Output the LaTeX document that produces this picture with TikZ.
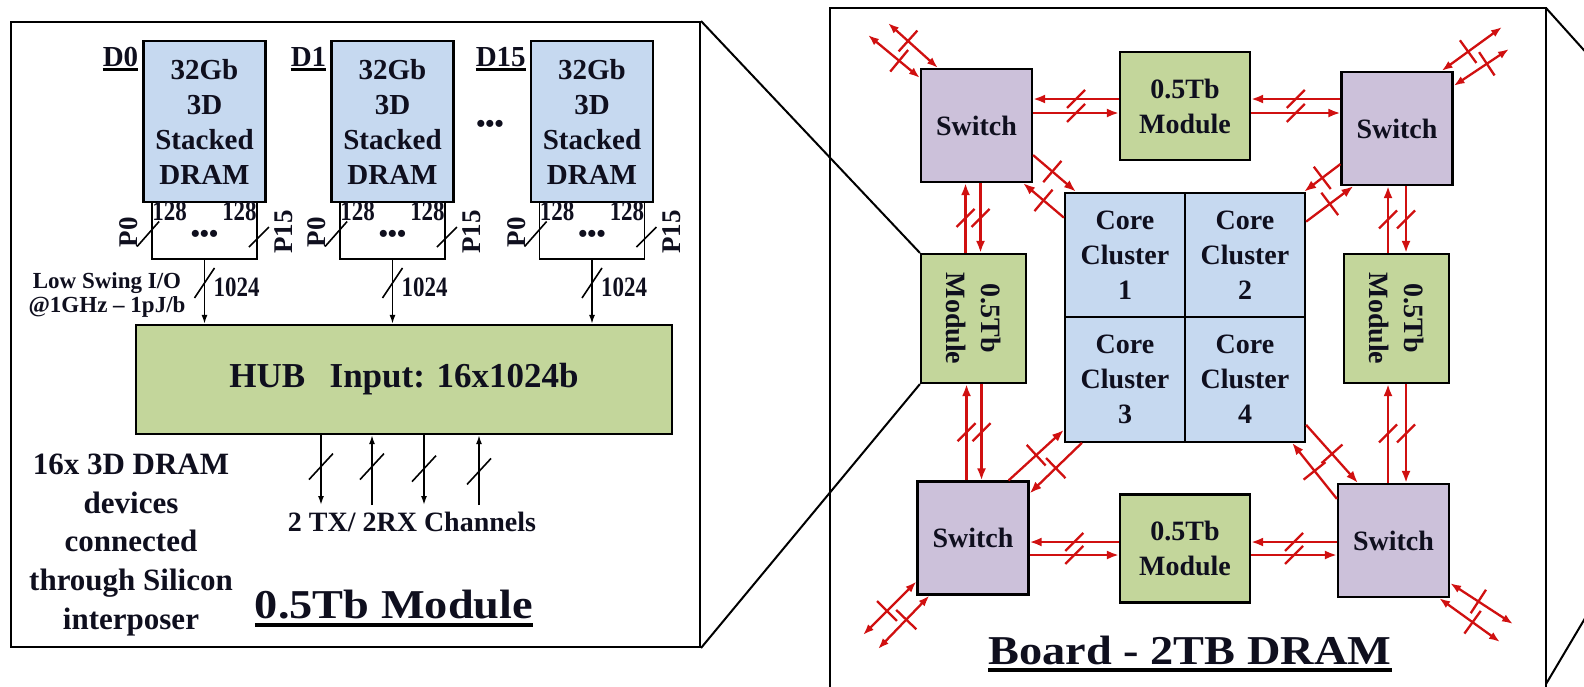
\documentclass[tikz,border=0pt]{standalone}
\usepackage{fontspec}
\setmainfont{Liberation Serif}
\usepackage{graphicx}
\usetikzlibrary{arrows.meta,decorations.markings,calc}
\definecolor{dblue}{RGB}{198,217,240}
\definecolor{mgreen}{RGB}{195,214,155}
\definecolor{spurple}{RGB}{204,193,218}
\definecolor{lred}{RGB}{208,16,16}
\definecolor{ink}{RGB}{15,15,30}
\newcommand{\myfs}[2]{\fontsize{#1}{#2}\selectfont\bfseries}
\tikzset{
  box/.style={draw=black, line width=2.2pt, inner sep=0pt, text=ink, align=center},
  dram/.style={box, fill=dblue, minimum width=122pt, minimum height=161pt, font=\myfs{29}{35}},
  port/.style={box, fill=white, line width=1.8pt, minimum width=105pt, minimum height=57pt},
  dotsl/.style={inner sep=0pt, text=ink, font=\myfs{26}{30}},
  lbl/.style={inner sep=0pt, text=ink, font=\myfs{28}{30}},
  plbl/.style={inner sep=0pt, text=ink, font=\myfs{27}{30}, rotate=90},
  dlab/.style={inner sep=0pt, text=ink, font=\myfs{29}{30}},
  hubbox/.style={box, fill=mgreen, minimum width=536pt, minimum height=109pt, font=\myfs{35}{40}},
  note/.style={inner sep=0pt, text=ink, align=center},
  frame/.style={draw=black, line width=2pt},
  sw/.style={box, fill=spurple, minimum width=111pt, minimum height=113pt, font=\myfs{28}{34}},
  modh/.style={box, fill=mgreen, minimum width=130pt, minimum height=108pt, font=\myfs{28}{35}},
  modv/.style={box, fill=mgreen, minimum width=105pt, minimum height=129pt},
  vtext/.style={inner sep=0pt, text=ink, align=center, font=\myfs{28}{35}, rotate=-90},
  core/.style={box, fill=dblue, minimum width=120pt, minimum height=124.5pt, font=\myfs{28}{35}},
  barrow/.style={draw=black, line width=1.6pt, -{Latex[length=9pt,width=6pt]}},
  bslash/.style n args={3}{postaction={decorate,decoration={markings,mark=at position #1 with {\pgftransformresetnontranslations\draw[black,line width=1.6pt,-] (-#2,-#3) -- (#2,#3);}}}},
  rline/.style={draw=lred, line width=2.3pt},
  rarrow/.style={rline, -{Latex[length=12pt,width=9pt]}},
  rboth/.style={rline, {Latex[length=11pt,width=8pt]}-{Latex[length=11pt,width=8pt]}},
  rslash/.style={postaction={decorate,decoration={markings,mark=at position #1 with {\pgftransformresetnontranslations\draw[lred,line width=2.3pt,-] (-9pt,-9pt) -- (9pt,9pt);}}}},
  rcross/.style={postaction={decorate,decoration={markings,mark=at position #1 with {\draw[lred,line width=2.3pt,-] (0pt,-14pt) -- (0pt,14pt);}}}},
}
\begin{document}
\begin{tikzpicture}[x=1pt,y=-1pt]
\useasboundingbox (0,0) rectangle (1584,686);

% ===== Left panel: 0.5Tb module =====
\node[frame, minimum width=689pt, minimum height=625pt, inner sep=0pt] (lframe) at (355.5,334.5) {};
\node[hubbox] (hub) at (404,379.5) {HUB\hspace{0.7em}Input: 16x1024b};

\foreach \n/\x/\lab in {a/204.5/D0, b/392.5/D1, c/592/D15}{
  \node[port] (port\n) at (\x,230.5) {};
  \node[dram] (dram\n) at (\x,121.5) {32Gb\\3D\\Stacked\\DRAM};
  \node[dotsl] at (\x,236) {•••};
  \node[lbl, anchor=north west] at ([xshift=1pt,yshift=-1pt]port\n.north west) {\scalebox{0.82}[1]{128}};
  \node[lbl, anchor=north east] at ([xshift=-1pt,yshift=-1pt]port\n.north east) {\scalebox{0.82}[1]{128}};
  \node[plbl] at ([xshift=-22pt,yshift=-1.5pt]port\n.west) {P0};
  \node[plbl] at ([xshift=26pt,yshift=-1.5pt]port\n.east) {P15};
  \draw[black,line width=1.6pt] ([shift={(-3pt,-3.5pt)}]port\n.west) +(-11pt,-12.5pt) -- +(11pt,12.5pt);
  \draw[black,line width=1.6pt] ([shift={(1pt,-6.5pt)}]port\n.east) +(-10pt,-10pt) -- +(10pt,10pt);
  \node[dlab, anchor=base east] (dl\n) at ([xshift=-4pt,yshift=-27pt]dram\n.north west) {\lab};
  \draw[line width=2.2pt] ([yshift=-2.5pt]dl\n.base west) -- ([yshift=-2.5pt]dl\n.base east);
  \draw[barrow, bslash={0.36}{10pt}{15pt}] (port\n.south) -- (port\n.south |- hub.north);
  \node[lbl, anchor=west] at (\x+9,287) {\scalebox{0.82}[1]{1024}};
}
\node[dotsl] at (490,126) {•••};

\node[note, font=\myfs{23}{24}] (ls) at (107,295) {Low Swing I/O\\@1GHz – 1pJ/b};

\coordinate (o1) at (321,505);
\coordinate (o2) at (372,505);
\coordinate (o3) at (424,505);
\coordinate (o4) at (479,505);
\draw[barrow, bslash={0.45}{12pt}{13pt}] (o1 |- hub.south) -- (o1);
\draw[barrow, bslash={0.55}{12pt}{13pt}] (o2) -- (o2 |- hub.south);
\draw[barrow, bslash={0.48}{12pt}{13pt}] (o3 |- hub.south) -- (o3);
\draw[barrow, bslash={0.48}{12pt}{13pt}] (o4) -- (o4 |- hub.south);
\node[note, font=\myfs{28}{30}] (chan) at (412,522) {2 TX/ 2RX Channels};

\node[note, font=\myfs{31}{38.8}] (desc) at (131,545) {16x 3D DRAM\\devices\\connected\\through Silicon\\interposer};

\node[inner sep=0pt, text=ink, font=\myfs{41}{44}, anchor=base] (t1) at (394,618) {\scalebox{1.13}[1]{0.5Tb Module}};
\draw[line width=4pt] ([yshift=-7pt]t1.base west) -- ([yshift=-7pt]t1.base east);

% ===== Right panel: board =====
\draw[frame] (830,690) -- (830,8) -- (1546,8) -- (1546,690);
\coordinate (bNE) at (1546,8);
\coordinate (bSE) at (1546,684);
\coordinate (zr1) at (1600,68);
\coordinate (zr2) at (1600,593);
\draw[frame] (bNE) -- (zr1);
\draw[frame] (bSE) -- (zr2);

\node[sw] (swTL) at (976.5,125.5) {Switch};
\node[sw] (swTR) at (1397,128.5) {Switch};
\node[sw] (swBL) at (973,538) {Switch};
\node[sw] (swBR) at (1393.5,540.5) {Switch};
\node[modh] (modT) at (1185,106) {0.5Tb\\Module};
\node[modh] (modB) at (1185,548.5) {0.5Tb\\Module};
\node[modv] (modL) at (973.5,318.5) {};
\node[vtext] at (modL) {0.5Tb\\Module};
\node[modv] (modR) at (1396.5,318.5) {};
\node[vtext] at (modR) {0.5Tb\\Module};
\node[core] (c1) at (1125,255) {Core\\Cluster\\1};
\node[core] (c2) at (1245,255) {Core\\Cluster\\2};
\node[core] (c3) at (1125,379.5) {Core\\Cluster\\3};
\node[core] (c4) at (1245,379.5) {Core\\Cluster\\4};

\draw[frame] (lframe.north east) -- (modL.north west);
\draw[frame] (lframe.south east) -- (modL.south west);

% horizontal links
\coordinate (tU) at ([yshift=7pt]modT.west);
\coordinate (tD) at ([yshift=-7pt]modT.west);
\coordinate (tU2) at ([yshift=7pt]modT.east);
\coordinate (tD2) at ([yshift=-7pt]modT.east);
\draw[rarrow, rslash=0.5] (tU) -- (tU -| swTL.east);
\draw[rarrow, rslash=0.5] (tD -| swTL.east) -- (tD);
\draw[rarrow, rslash=0.5] (tU2 -| swTR.west) -- (tU2);
\draw[rarrow, rslash=0.5] (tD2) -- (tD2 -| swTR.west);
\coordinate (bU) at ([yshift=6.5pt]modB.west);
\coordinate (bD) at ([yshift=-6.5pt]modB.west);
\coordinate (bU2) at ([yshift=6.5pt]modB.east);
\coordinate (bD2) at ([yshift=-6.5pt]modB.east);
\draw[rarrow, rslash=0.5] (bU) -- (bU -| swBL.east);
\draw[rarrow, rslash=0.5] (bD -| swBL.east) -- (bD);
\draw[rarrow, rslash=0.5] (bU2 -| swBR.west) -- (bU2);
\draw[rarrow, rslash=0.5] (bD2) -- (bD2 -| swBR.west);

% vertical links
\coordinate (lL) at ([xshift=-8pt]modL.north);
\coordinate (lR) at ([xshift=7pt]modL.north);
\coordinate (lL2) at ([xshift=-7pt]modL.south);
\coordinate (lR2) at ([xshift=8pt]modL.south);
\draw[rarrow, rslash=0.5] (lL) -- (lL |- swTL.south);
\draw[rarrow, rslash=0.5] (lR |- swTL.south) -- (lR);
\draw[rarrow, rslash=0.5] (lL2 |- swBL.north) -- (lL2);
\draw[rarrow, rslash=0.5] (lR2) -- (lR2 |- swBL.north);
\coordinate (rL) at ([xshift=-8.5pt]modR.north);
\coordinate (rR) at ([xshift=9.5pt]modR.north);
\coordinate (rL2) at ([xshift=-8.5pt]modR.south);
\coordinate (rR2) at ([xshift=9.5pt]modR.south);
\draw[rarrow, rslash=0.5] (rL) -- (rL |- swTR.south);
\draw[rarrow, rslash=0.5] (rR |- swTR.south) -- (rR);
\draw[rarrow, rslash=0.5] (rL2 |- swBR.north) -- (rL2);
\draw[rarrow, rslash=0.5] (rR2) -- (rR2 |- swBR.north);

% diagonal links to core clusters
\draw[rarrow, rcross=0.45] ([yshift=28pt]swTL.south east) -- ([xshift=12pt]c1.north west);
\draw[rarrow, rcross=0.5] ([yshift=-26pt]c1.north west) -- ([xshift=-10pt]swTL.south east);
\draw[rarrow, rcross=0.5] ([yshift=22pt]swTR.south west) -- ([xshift=-2pt]c2.north east);
\draw[rarrow, rcross=0.5] ([yshift=-30pt]c2.north east) -- ([xshift=13pt]swTR.south west);
\draw[rarrow, rcross=0.5] ([xshift=-21pt]swBL.north east) -- ([yshift=13pt]c3.south west);
\draw[rarrow, rcross=0.5] ([xshift=18pt]c3.south west) -- ([yshift=-13pt]swBL.north east);
\draw[rarrow, rcross=0.5] ([yshift=18pt]c4.south east) -- ([xshift=21pt]swBR.north west);
\draw[rarrow, rcross=0.5] ([yshift=-16pt]swBR.north west) -- ([xshift=-14pt]c4.south east);

% external links
\coordinate (e1) at (888,23);
\coordinate (e2) at (868,35);
\coordinate (e3) at (1502,27);
\coordinate (e4) at (1509,49);
\coordinate (e5) at (863,635);
\coordinate (e6) at (878,649);
\coordinate (e7) at (1513,624);
\coordinate (e8) at (1500,642);
\draw[rboth, rcross=0.6] ([xshift=18pt]swTL.north west) -- (e1);
\draw[rboth, rcross=0.4] ([yshift=-10pt]swTL.north west) -- (e2);
\draw[rboth, rcross=0.44] ([xshift=-12pt]swTR.north east) -- (e3);
\draw[rboth, rcross=0.6] ([yshift=-15pt]swTR.north east) -- (e4);
\draw[rboth, rcross=0.55] ([yshift=14pt]swBL.south west) -- (e5);
\draw[rboth, rcross=0.45] ([xshift=13pt]swBL.south west) -- (e6);
\draw[rboth, rcross=0.45] ([yshift=15pt]swBR.south east) -- (e7);
\draw[rboth, rcross=0.55] ([xshift=-11pt]swBR.south east) -- (e8);

\node[inner sep=0pt, text=ink, font=\myfs{41}{44}, anchor=base] (t2) at (1190,664) {\scalebox{1.13}[1]{Board - 2TB DRAM}};
\draw[line width=4pt] ([yshift=-6pt]t2.base west) -- ([yshift=-6pt]t2.base east);
\end{tikzpicture}
\end{document}
